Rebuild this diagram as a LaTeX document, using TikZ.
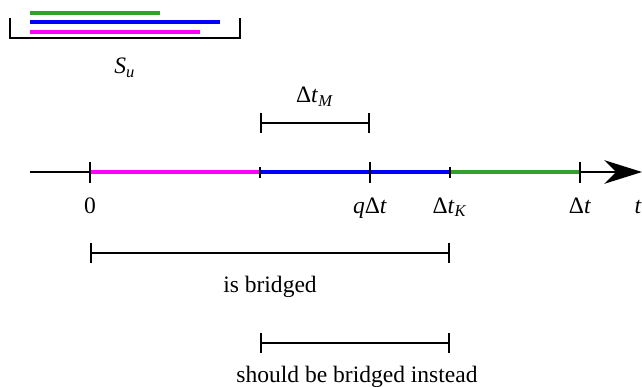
\documentclass[tikz,border=0pt]{standalone}
\usepackage{fontspec}
\setmainfont{Liberation Serif}
\usepackage{xcolor}
\definecolor{stepGreen}{RGB}{51,160,44}
\definecolor{stepBlue}{RGB}{0,0,255}
\definecolor{stepMagenta}{RGB}{255,0,255}
\usepackage{tikz}
\usetikzlibrary{
    arrows.meta,
    positioning
}
\tikzset{
    % Black time axis with a large arrow head
    axis/.style={
        line width=0.85pt,
        -{Stealth[length=16pt, width=10pt, inset=5pt]},
    },
    % Coloured interval pieces on the axis
    piece/.style={
        line width=1.3pt,
    },
    % Ticks on the axis
    long tick/.style={line width=0.85pt},
    short tick/.style={line width=0.7pt},
    % Interval with end bars
    span/.style={
        line width=0.85pt,
        {Bar[width=8.5pt]}-{Bar[width=8.5pt]},
    },
    % Text labels
    label text/.style={
        font=\normalsize,
        inner sep=0pt,
        anchor=base,
    },
}
\newcommand{\ivar}[1]{\textit{#1}}

\begin{document}
\begin{tikzpicture}[x=0.425pt, y=-0.425pt]
    \useasboundingbox (0,0) rectangle (642,387);

    % legend box with the three intervals of S_u
    \coordinate (su left) at (10,18);
    \coordinate (su right) at (240,18);
    \draw [line width=0.85pt] (su left) |- (240,38) -- (su right);
    \coordinate (g start) at (30,13);  \coordinate (g end) at (160,13);
    \coordinate (b start) at (30,22);  \coordinate (b end) at (220,22);
    \coordinate (m start) at (30,32);  \coordinate (m end) at (200,32);
    \draw [piece, stepGreen] (g start) -- (g end);
    \draw [piece, stepBlue] (b start) -- (b end);
    \draw [piece, stepMagenta] (m start) -- (m end);
    \node (su) [label text] at (125,74) {\ivar{S}\textsubscript{\ivar{u}}};

    % points on the time axis
    \coordinate (ax start) at (30,172);
    \coordinate (ax end) at (642,172);
    \coordinate (p0) at (90,172);
    \coordinate (pa) at (260,172);
    \coordinate (pq) at (370,172);
    \coordinate (pk) at (450,172);
    \coordinate (pt) at (580,172);

    \draw [axis] (ax start) -- (ax end);
    \draw [piece, stepMagenta] (p0) -- (pa);
    \draw [piece, stepBlue] (pa) -- (pk);
    \draw [piece, stepGreen] (pk) -- (pt);

    \foreach \p in {p0, pq, pt}
        \draw [long tick] ([yshift=4.3pt]\p) -- ([yshift=-4.6pt]\p);
    \foreach \p in {pa, pk}
        \draw [short tick] ([yshift=2.2pt]\p) -- ([yshift=-2.5pt]\p);

    \node (l0) [label text] at (90,213) {0};
    \node (lq) [label text] at (370,213) {\ivar{q}Δ\ivar{t}};
    \node (lk) [label text] at (450,213) {Δ\ivar{t}\textsubscript{\ivar{K}}};
    \node (lt) [label text] at (580,213) {Δ\ivar{t}};
    \node (lax) [label text] at (638,213) {\ivar{t}};

    % Delta t_M
    \coordinate (m left) at (260,123);
    \coordinate (m right) at (370,123);
    \draw [span] (m left) -- (m right);
    \node (dtm) [label text] at (315,103) {Δ\ivar{t}\textsubscript{\ivar{M}}};

    % bridged intervals
    \coordinate (br left) at (90,253);
    \coordinate (br right) at (450,253);
    \draw [span] (br left) -- (br right);
    \node (bridged) [label text] at (270,292) {is bridged};

    \coordinate (in left) at (260,343);
    \coordinate (in right) at (450,343);
    \draw [span] (in left) -- (in right);
    \node (instead) [label text] at (357,382) {should be bridged instead};
\end{tikzpicture}
\end{document}
